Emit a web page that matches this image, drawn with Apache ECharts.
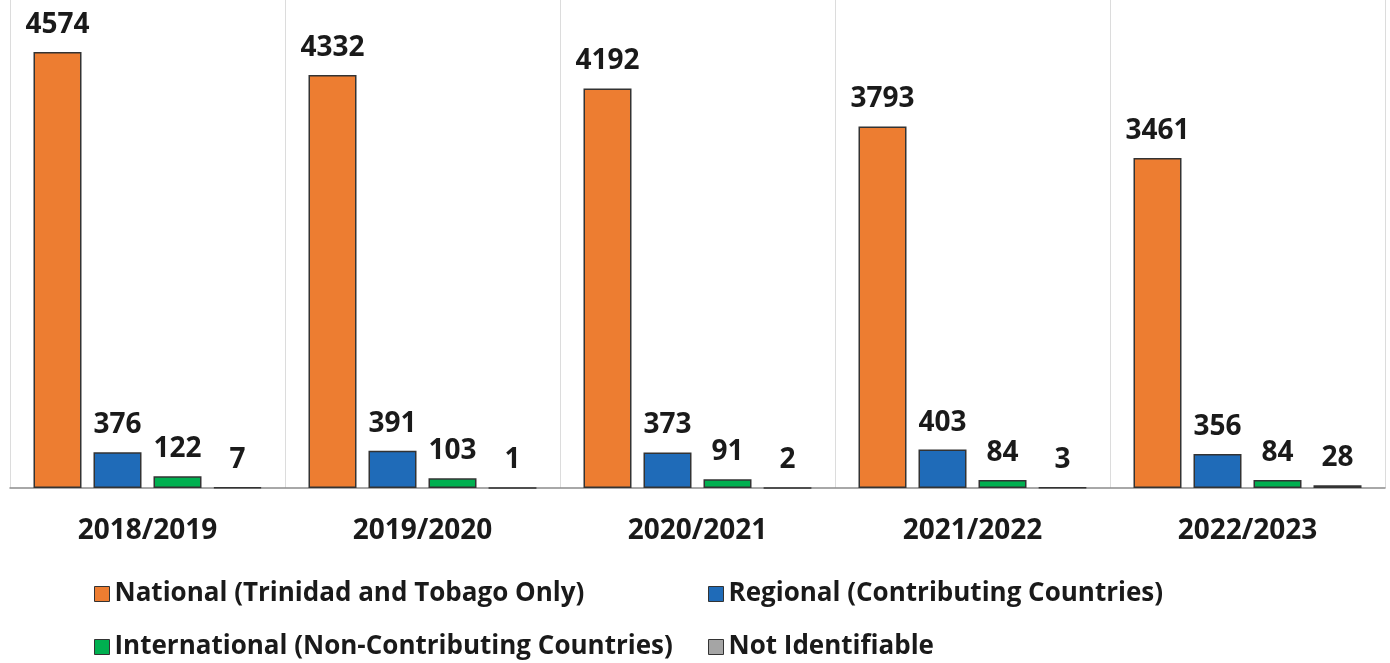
<!DOCTYPE html>
<html lang="en">
    <head>
        <meta charset="UTF-8">
        <title>Grouped Bars</title>
        <style>
            *{ margin: 0; padding: 0; }
            body{ background: #fff; }
            #chart{ width: 1390px; height: 663px; }
        </style>
        <script src="https://cdn.jsdelivr.net/npm/echarts@6/dist/echarts.min.js"></script>
    </head>
    <body>
        <div id="chart"></div>
        <script>
            // data
            var years = ['2018/2019', '2019/2020', '2020/2021', '2021/2022', '2022/2023'];
            var national = [4574, 4332, 4192, 3793, 3461];
            var regional = [376, 391, 373, 403, 356];
            var international = [122, 103, 91, 84, 84];
            var notIdentifiable = [7, 1, 2, 3, 28];
            var names = [
                'National (Trinidad and Tobago Only)',
                'Regional (Contributing Countries)',
                'International (Non-Contributing Countries)',
                'Not Identifiable'
            ];
            var colors = ['#ED7D31', '#1F6BB8', '#00B050', '#A5A5A5'];

            var font = '"Open Sans", sans-serif';

            function bar(i, data) {
                return {
                    name: names[i],
                    type: 'bar',
                    data: data,
                    barWidth: 48,
                    barGap: '25%',
                    itemStyle: {
                        color: colors[i],
                        borderColor: '#333',
                        borderWidth: 1.5
                    },
                    label: {
                        show: true,
                        position: 'top',
                        distance: 13,
                        color: '#1a1a1a',
                        fontFamily: font,
                        fontWeight: 'bold',
                        fontSize: 28
                    }
                };
            }

            var legendText = {
                color: '#1a1a1a',
                fontFamily: font,
                fontWeight: 'bold',
                fontSize: 26
            };

            // two legend columns, like the original
            function legendCol(items, left) {
                return {
                    data: items,
                    orient: 'vertical',
                    left: left,
                    top: 576,
                    height: 100,
                    itemWidth: 15,
                    itemHeight: 15,
                    itemGap: 27,
                    icon: 'rect',
                    itemStyle: { borderColor: '#333', borderWidth: 1 },
                    textStyle: legendText,
                    selectedMode: false
                };
            }

            var chart = echarts.init(document.getElementById('chart'));
            chart.setOption({
                animation: false,
                color: colors,
                legend: [
                    legendCol([names[0], names[2]], 89),
                    legendCol([names[1], names[3]], 703)
                ],
                grid: {
                    left: 10,
                    right: 5,
                    top: 0,
                    bottom: 175
                },
                xAxis: {
                    type: 'category',
                    data: years,
                    axisLine: { lineStyle: { color: '#8c8c8c', width: 1.5 } },
                    axisTick: { show: false },
                    splitLine: { show: true, lineStyle: { color: '#dcdcdc', width: 1 } },
                    axisLabel: {
                        margin: 29,
                        color: '#1a1a1a',
                        fontFamily: font,
                        fontWeight: 'bold',
                        fontSize: 28
                    }
                },
                yAxis: {
                    type: 'value',
                    min: 0,
                    max: 5120,
                    show: false,
                    splitLine: { show: false }
                },
                series: [
                    bar(0, national),
                    bar(1, regional),
                    bar(2, international),
                    bar(3, notIdentifiable)
                ]
            });
        </script>
    </body>
</html>
